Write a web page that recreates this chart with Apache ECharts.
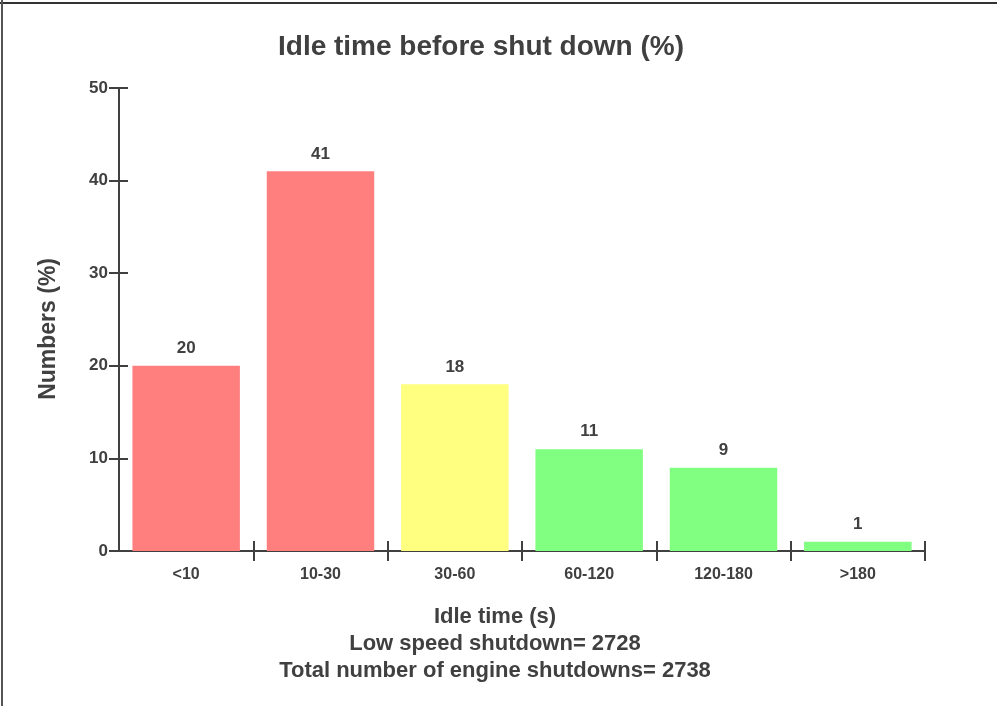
<!DOCTYPE html>
<html>
<head>
<meta charset="utf-8">
<script src="https://cdn.jsdelivr.net/npm/echarts@6/dist/echarts.min.js"></script>
<style>
  html, body { margin: 0; padding: 0; background: #fff; }
  #main { width: 997px; height: 706px; }
</style>
</head>
<body>
<div id="main"></div>
<script>
var categories = ['<10', '10-30', '30-60', '60-120', '120-180', '>180'];
var values = [20, 41, 18, 11, 9, 1];
var barColors = ['#ff7f7f', '#ff7f7f', '#ffff80', '#80ff80', '#80ff80', '#80ff80'];
var yTicks = [0, 10, 20, 30, 40, 50];
var footLines = ['Idle time (s)', 'Low speed shutdown= 2728', 'Total number of engine shutdowns= 2738'];

var txt = '#404040';
var font = 'Liberation Sans';
var chart = echarts.init(document.getElementById('main'));

var boundaries = [];
for (var i = 1; i <= categories.length; i++) boundaries.push(i);

chart.setOption({
  backgroundColor: '#fff',
  animation: false,
  title: [{
    text: 'Idle time before shut down (%)',
    left: 476,
    top: 28,
    textAlign: 'center',
    textStyle: { color: txt, fontFamily: font, fontWeight: 'bold', fontSize: 28 }
  }, {
    text: footLines.join('\n'),
    left: 490,
    top: 598,
    textAlign: 'center',
    textStyle: { color: txt, fontFamily: font, fontWeight: 'bold', fontSize: 22, lineHeight: 27 }
  }],
  graphic: [{
    type: 'text',
    left: 37,
    top: 258,
    rotation: Math.PI / 2,
    style: { text: 'Numbers (%)', fill: txt, font: 'bold 23px "Liberation Sans"' }
  }, {
    type: 'line',
    shape: { x1: 0, y1: 3, x2: 997, y2: 3 },
    style: { stroke: '#333', lineWidth: 2 }
  }, {
    type: 'line',
    shape: { x1: 2, y1: 0, x2: 2, y2: 706 },
    style: { stroke: '#555', lineWidth: 2 }
  }],
  grid: { left: 119, right: 72, top: 88, bottom: 155 },
  xAxis: [{
    type: 'category',
    data: categories,
    boundaryGap: true,
    axisLine: { lineStyle: { color: txt, width: 2 } },
    axisTick: { show: false },
    axisLabel: { color: txt, fontFamily: font, fontWeight: 'bold', fontSize: 16, margin: 16 }
  }, {
    type: 'value',
    position: 'bottom',
    min: 0, max: categories.length,
    axisLine: { show: false },
    splitLine: { show: false },
    axisLabel: { show: false },
    axisTick: { show: true, customValues: boundaries, length: 10, lineStyle: { color: txt, width: 2 } }
  }, {
    type: 'value',
    position: 'bottom',
    min: 0, max: categories.length,
    axisLine: { show: false },
    splitLine: { show: false },
    axisLabel: { show: false },
    axisTick: { show: true, inside: true, customValues: boundaries, length: 10, lineStyle: { color: txt, width: 2 } }
  }],
  yAxis: [{
    type: 'value',
    min: yTicks[0], max: yTicks[yTicks.length - 1], interval: 10,
    axisLine: { show: true, lineStyle: { color: txt, width: 2 } },
    axisTick: { show: true, length: 10, lineStyle: { color: txt, width: 2 } },
    splitLine: { show: false },
    axisLabel: { color: txt, fontFamily: font, fontWeight: 'bold', fontSize: 17, margin: 11 }
  }, {
    type: 'value',
    position: 'left',
    min: yTicks[0], max: yTicks[yTicks.length - 1], interval: 10,
    axisLine: { show: false },
    axisTick: { show: true, inside: true, length: 9, lineStyle: { color: txt, width: 2 } },
    splitLine: { show: false },
    axisLabel: { show: false }
  }],
  series: [{
    type: 'bar',
    xAxisIndex: 0,
    yAxisIndex: 0,
    barWidth: '80%',
    data: values.map(function (v, i) {
      return { value: v, itemStyle: { color: barColors[i] } };
    }),
    label: {
      show: true,
      position: 'top',
      distance: 9,
      color: txt,
      fontFamily: font,
      fontWeight: 'bold',
      fontSize: 17
    }
  }]
});
</script>
</body>
</html>
